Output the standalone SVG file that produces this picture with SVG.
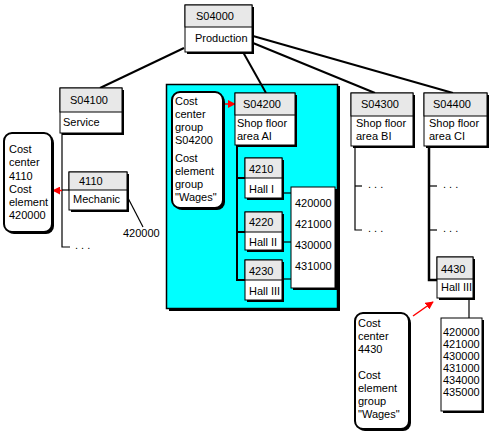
<svg xmlns="http://www.w3.org/2000/svg" width="499" height="448" viewBox="0 0 499 448">
<style>
text{font-family:"Liberation Sans",Arial,sans-serif;font-size:11px;fill:#000}
.sh{fill:#000}
.box{fill:#fff;stroke:#000;stroke-width:1}
.hd{fill:#e8e8e8;stroke:#000;stroke-width:1}
.rb{fill:#fff;stroke:#000;stroke-width:2}
.c{stroke:#000;stroke-width:2;fill:none}
.t{stroke:#000;stroke-width:1.2;fill:none}
.red{stroke:#f00;stroke-width:1.5;fill:none}
</style>
<defs>
<marker id="ah" viewBox="0 0 10 10" refX="9" refY="5" markerWidth="8" markerHeight="8" orient="auto" markerUnits="userSpaceOnUse">
<path d="M0,0 L10,5 L0,10 z" fill="#f00"/>
</marker>
</defs>
<rect x="0" y="0" width="499" height="448" fill="#fff"/>
<g id="area-s04200">
<rect x="169" y="86" width="171" height="225" class="sh"/>
<rect x="166.5" y="84.5" width="171" height="224" fill="#00ffff" stroke="#000" stroke-width="1.5"/>
</g>
<g id="connectors">
<line x1="184" y1="48" x2="100" y2="88" class="c"/>
<line x1="243" y1="52" x2="266" y2="93" class="c"/>
<line x1="253" y1="43" x2="375" y2="93" class="c"/>
<line x1="253" y1="36" x2="453" y2="93" class="c"/>
<polyline points="62,133 62,247 70,247" class="t"/>
<line x1="62" y1="190" x2="69" y2="190" class="t"/>
<line x1="128" y1="198" x2="143" y2="227" class="t"/>
<polyline points="237,145 237,280 245,280" class="c"/>
<line x1="237" y1="178" x2="245" y2="178" class="c"/>
<line x1="237" y1="232" x2="245" y2="232" class="c"/>
<line x1="284" y1="193" x2="291" y2="193" class="t"/>
<line x1="284" y1="242" x2="291" y2="242" class="t"/>
<line x1="284" y1="279" x2="291" y2="279" class="t"/>
<polyline points="355,146 355,230 362,230" class="t"/>
<line x1="355" y1="186" x2="362" y2="186" class="t"/>
<polyline points="429,146 429,280 437,280" stroke="#000" stroke-width="2.5" fill="none"/>
<line x1="429" y1="186" x2="437" y2="186" class="t"/>
<line x1="429" y1="230" x2="437" y2="230" class="t"/>
<line x1="469" y1="298" x2="469" y2="318" class="t"/>
<line x1="62" y1="190.5" x2="53" y2="190.5" class="red" marker-end="url(#ah)"/>
<line x1="224" y1="104" x2="235" y2="104" class="red" marker-end="url(#ah)"/>
<line x1="413" y1="316" x2="433" y2="302" class="red" marker-end="url(#ah)"/>
</g>
<g id="dots">
<text x="75" y="249">.  .  .</text>
<text x="368" y="188">.  .  .</text>
<text x="368" y="232">.  .  .</text>
<text x="443" y="188">.  .  .</text>
<text x="443" y="232">.  .  .</text>
<text x="123" y="237">420000</text>
</g>
<g id="n-s04000">
<rect x="187" y="7" width="67" height="47" class="sh"/>
<rect x="185" y="5" width="67" height="47" class="box"/>
<rect x="185" y="5" width="67" height="22" class="hd"/>
<text x="196" y="20">S04000</text>
<text x="195" y="42">Production</text>
</g>
<g id="n-s04100">
<rect x="62" y="90" width="62" height="45" class="sh"/>
<rect x="60" y="88" width="62" height="45" class="box"/>
<rect x="60" y="88" width="62" height="24" class="hd"/>
<text x="70" y="104">S04100</text>
<text x="63" y="126">Service</text>
</g>
<g id="n-s04200">
<rect x="237" y="95" width="60" height="52" class="sh"/>
<rect x="235" y="93" width="60" height="52" class="box"/>
<rect x="235" y="93" width="60" height="22" class="hd"/>
<text x="243" y="108">S04200</text>
<text x="237" y="127">Shop floor</text>
<text x="237" y="140">area AI</text>
</g>
<g id="n-s04300">
<rect x="353" y="95" width="62" height="53" class="sh"/>
<rect x="351" y="93" width="62" height="53" class="box"/>
<rect x="351" y="93" width="62" height="23" class="hd"/>
<text x="361" y="108">S04300</text>
<text x="356" y="127">Shop floor</text>
<text x="356" y="140">area BI</text>
</g>
<g id="n-s04400">
<rect x="426" y="95" width="63" height="53" class="sh"/>
<rect x="424" y="93" width="63" height="53" class="box"/>
<rect x="424" y="93" width="63" height="23" class="hd"/>
<text x="433" y="108">S04400</text>
<text x="429" y="127">Shop floor</text>
<text x="429" y="140">area CI</text>
</g>
<g id="n-4110">
<rect x="71" y="174" width="58" height="38" class="sh"/>
<rect x="69" y="172" width="58" height="38" class="box"/>
<rect x="69" y="172" width="58" height="18" class="hd"/>
<text x="79" y="185">4110</text>
<text x="73" y="203">Mechanic</text>
</g>
<g id="n-4210">
<rect x="247" y="160" width="37" height="40" class="sh"/>
<rect x="245" y="158" width="37" height="40" class="box"/>
<rect x="245" y="158" width="37" height="20" class="hd"/>
<text x="249" y="173">4210</text>
<text x="249" y="193">Hall I</text>
</g>
<g id="n-4220">
<rect x="247" y="214" width="37" height="38" class="sh"/>
<rect x="245" y="212" width="37" height="38" class="box"/>
<rect x="245" y="212" width="37" height="20" class="hd"/>
<text x="249" y="226">4220</text>
<text x="249" y="246">Hall II</text>
</g>
<g id="n-4230">
<rect x="247" y="262" width="37" height="40" class="sh"/>
<rect x="245" y="260" width="37" height="40" class="box"/>
<rect x="245" y="260" width="37" height="20" class="hd"/>
<text x="249" y="275">4230</text>
<text x="249" y="295">Hall III</text>
</g>
<g id="n-4430">
<rect x="439" y="259" width="36" height="41" class="sh"/>
<rect x="437" y="257" width="36" height="41" class="box"/>
<rect x="437" y="257" width="36" height="22" class="hd"/>
<text x="441" y="273">4430</text>
<text x="441" y="291">Hall III</text>
</g>
<g id="n-elements-a">
<rect x="293" y="189" width="44" height="101" class="sh"/>
<rect x="291" y="187" width="44" height="101" class="box"/>
<text x="295" y="207">420000</text>
<text x="295" y="228">421000</text>
<text x="295" y="249">430000</text>
<text x="295" y="270">431000</text>
</g>
<g id="n-elements-c">
<rect x="443" y="320" width="41" height="93" class="sh"/>
<rect x="441" y="318" width="41" height="93" class="box"/>
<text x="443" y="336">420000</text>
<text x="443" y="348">421000</text>
<text x="443" y="360">430000</text>
<text x="443" y="372">431000</text>
<text x="443" y="384">434000</text>
<text x="443" y="396">435000</text>
</g>
<g id="n-note-4110">
<rect x="6" y="135" width="48" height="99" rx="8" class="sh"/>
<rect x="4" y="133" width="48" height="99" rx="8" class="rb"/>
<text x="9" y="153">Cost</text>
<text x="9" y="166">center</text>
<text x="9" y="180">4110</text>
<text x="9" y="193">Cost</text>
<text x="9" y="206">element</text>
<text x="9" y="219">420000</text>
</g>
<g id="n-note-s04200">
<rect x="174" y="94" width="51" height="116" rx="8" class="sh"/>
<rect x="172" y="92" width="51" height="116" rx="8" class="rb"/>
<text x="175" y="105">Cost</text>
<text x="175" y="118">center</text>
<text x="175" y="131">group</text>
<text x="175" y="144">S04200</text>
<text x="175" y="162">Cost</text>
<text x="175" y="175">element</text>
<text x="175" y="188">group</text>
<text x="175" y="201">"Wages"</text>
</g>
<g id="n-note-4430">
<rect x="357" y="315" width="54" height="116" rx="8" class="sh"/>
<rect x="355" y="313" width="54" height="116" rx="8" class="rb"/>
<text x="358" y="327">Cost</text>
<text x="358" y="340">center</text>
<text x="358" y="353">4430</text>
<text x="358" y="379">Cost</text>
<text x="358" y="392">element</text>
<text x="358" y="405">group</text>
<text x="358" y="418">"Wages"</text>
</g>
</svg>
